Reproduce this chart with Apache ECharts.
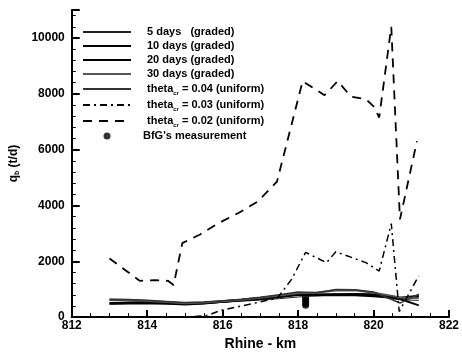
<!DOCTYPE html>
<html>
<head>
<meta charset="utf-8">
<script src="https://cdn.jsdelivr.net/npm/echarts@6/dist/echarts.min.js"></script>
<style>
  html, body { margin: 0; padding: 0; background: #fff; }
  #chart { width: 462px; height: 356px; }
</style>
</head>
<body>
<div id="chart"></div>
<script>
// Rhine-km positions of the graded / uniform runs
const kmGraded = [813, 813.5, 814, 814.5, 815, 815.5, 816, 816.5, 817, 817.5, 818, 818.5, 819, 819.5, 820, 820.5, 820.7, 821.2];
const days5   = [600, 590, 560, 520, 480, 490, 530, 570, 610, 660, 720, 760, 800, 830, 790, 650, 620, 600];
const days10  = [480, 490, 500, 490, 470, 500, 550, 600, 650, 720, 790, 810, 820, 830, 820, 730, 650, 420];
const days20  = [500, 510, 520, 500, 460, 500, 560, 610, 670, 740, 820, 790, 800, 790, 760, 700, 680, 760];
const days30  = [620, 610, 580, 540, 500, 520, 570, 620, 690, 770, 850, 880, 950, 960, 870, 760, 700, 680];
const theta04 = [640, 630, 600, 560, 520, 540, 590, 640, 710, 800, 900, 870, 990, 980, 900, 620, 500, 820];

const km03    = [813, 814, 815, 815.6, 815.95, 816.75, 817.45, 817.83, 818.2, 818.75, 819.0, 819.8, 820.15, 820.47, 820.68, 821.2];
const theta03 = [0, 0, 0, 60, 240, 470, 680, 1360, 2320, 1950, 2340, 1950, 1650, 3350, 200, 1480];

const km02    = [813.0, 813.8, 814.2, 814.55, 814.7, 814.93, 815.4, 815.9, 816.42, 816.93, 817.44, 818.12, 818.7, 819.05, 819.4, 819.8, 820.0, 820.15, 820.47, 820.7, 821.15];
const theta02 = [2100, 1300, 1320, 1300, 1150, 2650, 2960, 3370, 3730, 4140, 4850, 8450, 7950, 8450, 7900, 7800, 7550, 7150, 10400, 3500, 6300];

const kmBfG  = [818.2, 818.2, 818.2, 818.2, 818.2, 818.2];
const bfgVal = [420, 480, 540, 600, 660, 720];

const legendNames = [
  '5 days   (graded)', '10 days (graded)', '20 days (graded)', '30 days (graded)',
  'theta_cr = 0.04 (uniform)', 'theta_cr = 0.03 (uniform)', 'theta_cr = 0.02 (uniform)',
  "BfG's measurement"
];

const pairs = (xs, ys) => xs.map((x, i) => [x, ys[i]]);

const FONT = '"Liberation Sans", Arial, sans-serif';

const chart = echarts.init(document.getElementById('chart'));

function lineSeries(name, xs, ys, width, color, type) {
  return {
    name: name,
    type: 'line',
    data: pairs(xs, ys),
    symbol: 'none',
    lineStyle: { color: color, width: width, type: type || 'solid' },
    itemStyle: { color: color },
    silent: true
  };
}

chart.setOption({
  animation: false,
  grid: { left: 60, right: 10, top: 10, bottom: 36 },
  legend: {
    orient: 'vertical',
    left: 82,
    top: 26,
    padding: 0,
    itemWidth: 48,
    itemHeight: 7,
    itemGap: 2,
    textStyle: {
      fontFamily: FONT, fontSize: 11, fontWeight: 'bold', color: '#000',
      lineHeight: 12, padding: [0, 0, 0, 11],
      rich: {
        s: { fontFamily: FONT, fontSize: 6, fontWeight: 'bold', color: '#000', lineHeight: 12, padding: [8, 0, 0, 0] }
      }
    },
    formatter: n => n.replace('_cr', '{s|cr}'),
    // line entries: hide the marker ECharts puts in the middle of the icon
    data: legendNames.map((n, i) => i < 7
      ? { name: n, itemStyle: { opacity: 0 } }
      : { name: n, textStyle: { padding: [0, 0, 0, 7] } })
  },
  xAxis: {
    type: 'value',
    min: 812, max: 822, interval: 2,
    name: 'Rhine - km',
    nameLocation: 'middle',
    nameGap: 16,
    nameTextStyle: { fontFamily: FONT, fontSize: 14, fontWeight: 'bold', color: '#000' },
    axisLine: { lineStyle: { color: '#000', width: 2 } },
    axisTick: { inside: true, length: 7, lineStyle: { color: '#000', width: 2 } },
    minorTick: { show: true, splitNumber: 4, length: 4, lineStyle: { color: '#000', width: 1 } },
    axisLabel: { margin: 3, fontFamily: FONT, fontSize: 12, fontWeight: 'bold', color: '#000' },
    splitLine: { show: false }
  },
  yAxis: {
    type: 'value',
    min: 0, max: 11000, interval: 2000,
    name: 'q{b|b} (t/d)',
    nameLocation: 'middle',
    nameGap: 40,
    nameTextStyle: {
      fontFamily: FONT, fontSize: 12, fontWeight: 'bold', color: '#000',
      rich: { b: { fontFamily: FONT, fontSize: 7, fontWeight: 'bold', color: '#000', padding: [6, 0, 0, 0] } }
    },
    axisLine: { show: true, lineStyle: { color: '#000', width: 2 } },
    axisTick: { inside: true, length: 8, lineStyle: { color: '#000', width: 2 } },
    minorTick: { show: true, splitNumber: 5, length: 4, lineStyle: { color: '#000', width: 1 } },
    axisLabel: {
      margin: 7, fontFamily: FONT, fontSize: 12, fontWeight: 'bold', color: '#000',
      formatter: v => (v > 10000 ? '' : String(v))
    },
    splitLine: { show: false }
  },
  series: [
    lineSeries(legendNames[0], kmGraded, days5, 1, '#222'),
    lineSeries(legendNames[1], kmGraded, days10, 2, '#000'),
    lineSeries(legendNames[2], kmGraded, days20, 2.5, '#000'),
    lineSeries(legendNames[3], kmGraded, days30, 2, '#555'),
    lineSeries(legendNames[4], kmGraded, theta04, 1.5, '#333'),
    lineSeries(legendNames[5], km03, theta03, 1.5, '#000', [7, 4, 2, 4]),
    lineSeries(legendNames[6], km02, theta02, 1.8, '#000', [9, 7]),
    {
      name: legendNames[7],
      type: 'scatter',
      data: pairs(kmBfG, bfgVal),
      symbol: 'circle',
      symbolSize: 7,
      itemStyle: { color: '#000' },
      silent: true
    }
  ]
});
</script>
</body>
</html>
